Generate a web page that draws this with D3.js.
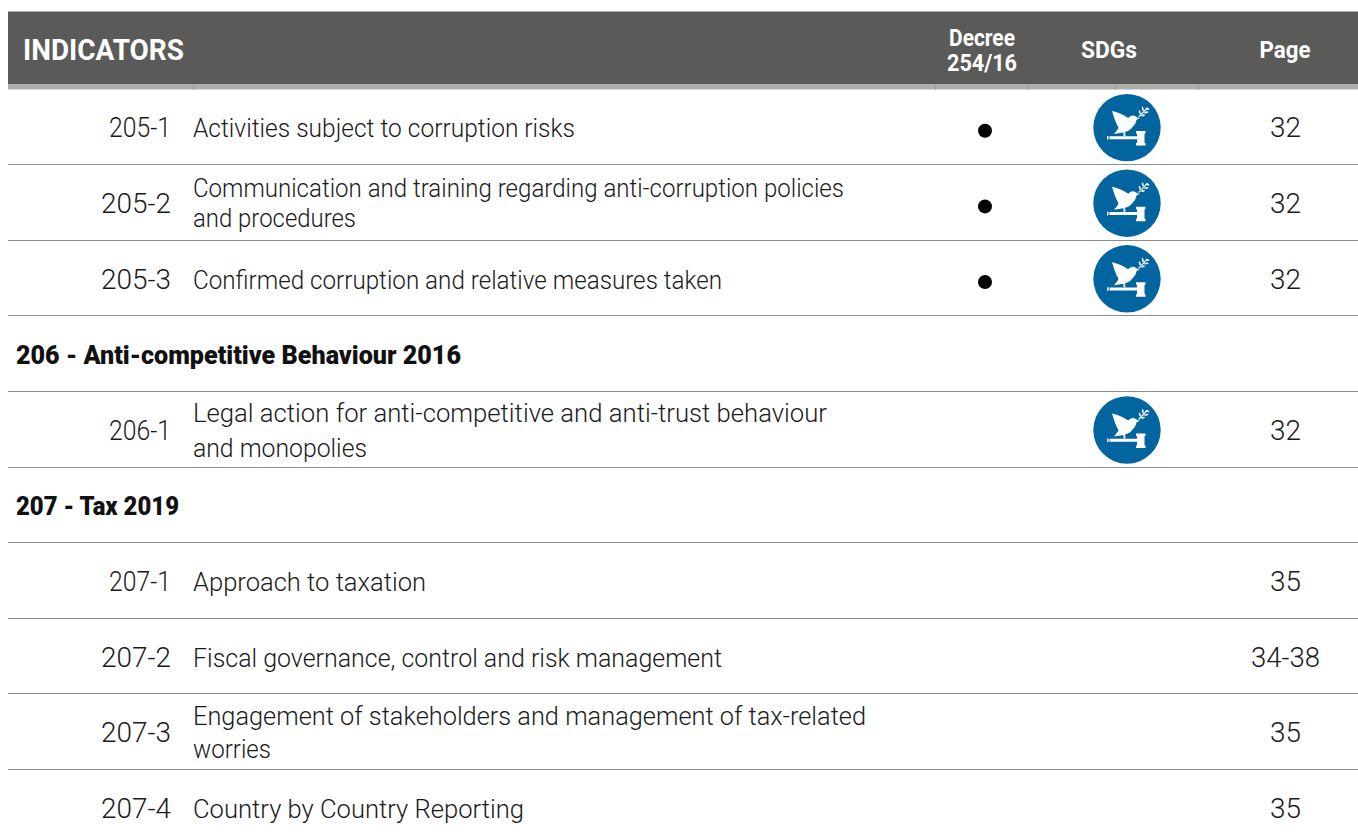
<!DOCTYPE html>
<html>
<head>
<meta charset="utf-8">
<script src="https://cdn.jsdelivr.net/npm/d3@7"></script>
<style>
html, body { margin: 0; background: #fff; overflow: hidden; }
text { font-family: Roboto, sans-serif; }
.cell { font-weight: 300; font-size: 25px; fill: #1a1a1a; }
.num { font-size: 27px; }
.section { font-weight: 900; font-size: 25px; fill: #111; }
.head { font-weight: 700; fill: #fff; }
</style>
</head>
<body>
<div id="chart"></div>
<script>
const rowTypes = ["item", "item", "item", "section", "item", "section", "item", "item", "item", "item"];
const codes = ["205-1", "205-2", "205-3", "", "206-1", "", "207-1", "207-2", "207-3", "207-4"];
const labels = [
    ["Activities subject to corruption risks"],
    ["Communication and training regarding anti-corruption policies", "and procedures"],
    ["Confirmed corruption and relative measures taken"],
    ["206 - Anti-competitive Behaviour 2016"],
    ["Legal action for anti-competitive and anti-trust behaviour", "and monopolies"],
    ["207 - Tax 2019"],
    ["Approach to taxation"],
    ["Fiscal governance, control and risk management"],
    ["Engagement of stakeholders and management of tax-related", "worries"],
    ["Country by Country Reporting"]
];
const decree = [1, 1, 1, 0, 0, 0, 0, 0, 0, 0];
const sdgs = [1, 1, 1, 0, 1, 0, 0, 0, 0, 0];
const pages = ["32", "32", "32", "", "32", "", "35", "34-38", "35", "35"];
const headColumns = ["Decree|254/16", "SDGs", "Page"];

const dimensions = { width: 1358, height: 838 };

const svg = d3.select("#chart")
    .append("svg")
    .attr("width", dimensions.width)
    .attr("height", dimensions.height);

const y = d3.scaleLinear().domain([0, 10]).range([89.5, 845.5]);
const rows = d3.range(rowTypes.length);

// header band
svg.append("rect").attr("x", 8).attr("y", 11).attr("width", 1350).attr("height", 1).attr("fill", "#a9a9a7");
svg.append("rect").attr("x", 8).attr("y", 12).attr("width", 1350).attr("height", 72).attr("fill", "#5a5a58");
svg.append("rect").attr("x", 8).attr("y", 84).attr("width", 1350).attr("height", 5.5).attr("fill", "#adadab");
svg.selectAll(".tick-mark")
    .data([193, 935, 1028, 1115, 1198])
    .enter()
    .append("rect")
    .attr("class", "tick-mark")
    .attr("x", d => d)
    .attr("y", 84)
    .attr("width", 1)
    .attr("height", 5.5)
    .attr("fill", "#9c9c9a");

svg.append("text").attr("class", "head")
    .attr("x", 23).attr("y", 60)
    .attr("font-size", "29px")
    .attr("textLength", 161)
    .attr("lengthAdjust", "spacingAndGlyphs")
    .text("INDICATORS");

svg.append("text").attr("class", "head")
    .attr("x", 982).attr("y", 46).attr("text-anchor", "middle")
    .attr("font-size", "23px")
    .attr("textLength", 66).attr("lengthAdjust", "spacingAndGlyphs")
    .text(headColumns[0].split("|")[0]);
svg.append("text").attr("class", "head")
    .attr("x", 982).attr("y", 71).attr("text-anchor", "middle")
    .attr("font-size", "23px")
    .attr("textLength", 70).attr("lengthAdjust", "spacingAndGlyphs")
    .text(headColumns[0].split("|")[1]);
svg.append("text").attr("class", "head")
    .attr("x", 1109).attr("y", 58).attr("text-anchor", "middle")
    .attr("font-size", "23px")
    .attr("textLength", 56).attr("lengthAdjust", "spacingAndGlyphs")
    .text(headColumns[1]);
svg.append("text").attr("class", "head")
    .attr("x", 1285).attr("y", 58).attr("text-anchor", "middle")
    .attr("font-size", "23px")
    .attr("textLength", 51).attr("lengthAdjust", "spacingAndGlyphs")
    .text(headColumns[2]);

// row rules
svg.selectAll(".rule")
    .data(rows.slice(1))
    .enter()
    .append("rect")
    .attr("class", "rule")
    .attr("x", 8)
    .attr("y", d => Math.round(y(d)) - 1)
    .attr("width", 1350)
    .attr("height", 1)
    .attr("fill", "#8c8c8c");

const rowCenter = i => (y(i) + y(i + 1)) / 2;
const itemRows = rows.filter(i => rowTypes[i] === "item");

// the "1" is a narrow digit in the original face
const codeWidth = c => c.endsWith("1") ? 62 : 70;

svg.selectAll(".code")
    .data(itemRows)
    .enter()
    .append("text")
    .attr("class", "cell num code")
    .attr("x", 171)
    .attr("y", i => rowCenter(i) + 10)
    .attr("text-anchor", "end")
    .attr("textLength", i => codeWidth(codes[i]))
    .attr("lengthAdjust", "spacingAndGlyphs")
    .text(i => codes[i]);

const labelWidths = {
    "Activities subject to corruption risks": 382,
    "Communication and training regarding anti-corruption policies": 651,
    "and procedures": 163,
    "Confirmed corruption and relative measures taken": 529,
    "Legal action for anti-competitive and anti-trust behaviour": 634,
    "and monopolies": 174,
    "Approach to taxation": 233,
    "Fiscal governance, control and risk management": 529,
    "Engagement of stakeholders and management of tax-related": 673,
    "worries": 78,
    "Country by Country Reporting": 331
};

// baseline offsets from the row centre, two-line rows are spaced unevenly
const lineOffsets = { 1: [-6, 24], 4: [-8, 27], 8: [-7, 26] };

itemRows.forEach(i => {
    labels[i].forEach((line, k) => {
        const offset = lineOffsets[i] ? lineOffsets[i][k] : 10;
        svg.append("text")
            .attr("class", "cell label")
            .attr("x", 193)
            .attr("y", rowCenter(i) + offset)
            .attr("textLength", labelWidths[line])
            .attr("lengthAdjust", "spacingAndGlyphs")
            .text(line);
    });
});

svg.selectAll(".section")
    .data(rows.filter(i => rowTypes[i] === "section"))
    .enter()
    .append("text")
    .attr("class", "section")
    .attr("x", 16)
    .attr("y", i => rowCenter(i) + 10)
    .attr("textLength", i => i === 3 ? 445 : 163)
    .attr("lengthAdjust", "spacingAndGlyphs")
    .text(i => labels[i][0]);

svg.selectAll(".dot")
    .data(rows.filter(i => decree[i]))
    .enter()
    .append("circle")
    .attr("class", "dot")
    .attr("cx", 985)
    .attr("cy", i => rowCenter(i) + 3.5)
    .attr("r", 7)
    .attr("fill", "#000");

// SDG 16 icon, dove on a gavel
const icons = svg.selectAll(".sdg")
    .data(rows.filter(i => sdgs[i]))
    .enter()
    .append("g")
    .attr("class", "sdg")
    .attr("transform", i => `translate(1127,${rowCenter(i) + 0.3})`);
icons.append("circle").attr("r", 33.7).attr("fill", "#02659f");
icons.append("path")
    .attr("fill", "#fff")
    .attr("d", "M-15,-16.5 C-10,-15.5 -4,-13 1.3,-9.5 C2.5,-11 4,-12 6,-12 C8,-12 9,-11 10,-10 L13,-9 L9.7,-8 C9,-5 8,-3 6,-1 C4,2 1,4 -2,4.5 L-1.5,8.5 L-3.5,8.5 L-3.5,5 C-7,5.5 -10,6 -13,6.5 C-11,4 -9,2 -8.5,0 C-11,-4 -13,-10 -15,-16.5 Z");
icons.append("path")
    .attr("stroke", "#fff")
    .attr("stroke-width", 1.2)
    .attr("fill", "none")
    .attr("d", "M11.5,-10.5 C14,-13 17,-16 20.5,-20");
icons.append("path")
    .attr("stroke", "#fff")
    .attr("stroke-width", 1.6)
    .attr("stroke-linecap", "round")
    .attr("fill", "none")
    .attr("d", "M13,-14.5 L12.5,-16.5 M16,-17.5 L15.5,-20 M15,-12 L17,-12.5 M18,-15 L20.5,-15.5 M19.5,-19 L21.5,-18.5");
icons.append("path")
    .attr("fill", "#fff")
    .attr("d", "M-20,8.5 H-18.5 V12 H-20 Z M-17.5,8.7 H10 V11.7 H-17.5 Z M9,3.5 H18.5 V6 H17.5 V15.5 H18.5 V18 H9 V15.5 H10 V6 H9 Z");

svg.selectAll(".page")
    .data(rows.filter(i => pages[i]))
    .enter()
    .append("text")
    .attr("class", "cell num page")
    .attr("x", 1285.5)
    .attr("y", i => rowCenter(i) + 10)
    .attr("text-anchor", "middle")
    .attr("textLength", i => pages[i].length > 2 ? 69 : 31)
    .attr("lengthAdjust", "spacingAndGlyphs")
    .text(i => pages[i]);
</script>
</body>
</html>
